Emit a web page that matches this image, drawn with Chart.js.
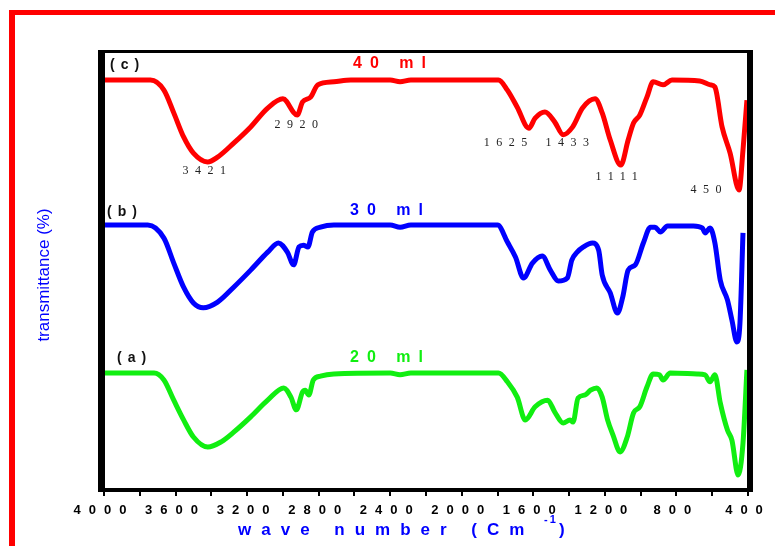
<!DOCTYPE html>
<html>
<head>
<meta charset="utf-8">
<script src="https://cdn.jsdelivr.net/npm/chart.js@4.4.0/dist/chart.umd.min.js"></script>
<style>
  body { margin: 0; background: #fff; }
</style>
</head>
<body>
<canvas id="ftir" width="775" height="546"></canvas>
<script>
// wavenumber (cm-1) and offset transmittance
var wnC = [4000, 3740, 3665, 3610, 3555, 3500, 3421, 3365, 3275, 3180, 3085, 3000, 2920, 2890, 2845, 2805, 2715, 2620, 2400, 2345, 2285, 1795, 1745, 1690, 1625, 1590, 1535, 1480, 1433, 1380, 1325, 1255, 1215, 1170, 1111, 1070, 1040, 1005, 965, 930, 875, 825, 670, 610, 585, 545, 500, 450, 428, 406];
var tC = [93.6, 93.6, 91.3, 86.1, 80.6, 76.9, 74.9, 76.0, 79.2, 82.9, 87.2, 89.3, 85.6, 88.6, 89.7, 92.5, 93.2, 93.6, 93.6, 93.2, 93.6, 93.6, 91.3, 87.4, 82.6, 84.9, 86.3, 84.0, 81.1, 82.9, 87.2, 89.3, 86.1, 79.9, 74.2, 79.9, 83.8, 85.6, 89.7, 93.2, 92.5, 93.6, 93.4, 92.5, 92.0, 82.9, 76.9, 68.5, 77.6, 89.0];

var wnB = [4000, 3755, 3665, 3610, 3555, 3500, 3445, 3365, 3275, 3180, 3085, 3025, 2975, 2940, 2910, 2885, 2860, 2835, 2790, 2715, 2400, 2345, 2285, 1800, 1745, 1700, 1655, 1605, 1550, 1505, 1460, 1410, 1385, 1355, 1320, 1270, 1235, 1215, 1170, 1130, 1100, 1070, 1030, 985, 945, 920, 890, 850, 705, 655, 640, 612, 585, 555, 515, 490, 462, 445, 428];
var tB = [60.5, 60.5, 57.5, 51.8, 46.3, 42.7, 41.6, 42.9, 46.3, 50.2, 54.3, 56.4, 54.3, 51.4, 55.5, 55.9, 55.5, 58.9, 60.0, 60.5, 60.5, 60.0, 60.5, 60.5, 56.6, 53.2, 48.4, 51.8, 53.4, 50.2, 47.7, 48.4, 52.5, 54.3, 55.5, 56.4, 54.8, 49.1, 45.0, 40.4, 44.1, 50.2, 51.4, 56.4, 60.0, 60.0, 58.9, 60.3, 60.3, 59.8, 58.7, 59.8, 56.4, 47.9, 43.4, 38.8, 33.8, 38.1, 58.7];

var wnA = [4000, 3720, 3665, 3610, 3555, 3500, 3420, 3345, 3275, 3180, 3085, 2995, 2955, 2925, 2890, 2875, 2855, 2830, 2790, 2715, 2400, 2345, 2285, 1795, 1745, 1690, 1645, 1590, 1520, 1480, 1433, 1395, 1378, 1350, 1310, 1280, 1245, 1215, 1185, 1155, 1115, 1075, 1040, 1005, 965, 930, 895, 875, 835, 685, 640, 612, 585, 555, 515, 490, 455, 428, 406];
var tA = [26.7, 26.7, 25.1, 20.5, 16.0, 12.1, 9.8, 11.0, 13.2, 16.7, 20.5, 23.3, 21.2, 18.3, 22.4, 22.8, 21.7, 25.1, 26.0, 26.5, 26.7, 26.3, 26.7, 26.7, 24.7, 21.2, 16.0, 19.0, 20.5, 17.8, 15.3, 16.0, 15.5, 21.0, 21.7, 22.8, 23.3, 21.2, 16.0, 12.6, 8.7, 12.1, 17.6, 19.0, 23.5, 26.5, 26.3, 25.1, 26.7, 26.5, 26.3, 24.7, 26.3, 19.9, 13.7, 11.4, 3.4, 10.7, 27.4];

// peak labels: text, wavenumber and value where the label is centred
var peakText = ["3421", "2920", "1625", "1433", "1111", "450"];
var peakWn = [3439, 2926, 1756, 1410, 1134, 635];
var peakT = [72.8, 83.3, 79.2, 79.2, 71.5, 68.5];

function toPoints(xs, ys) {
  return xs.map((x, i) => ({ x: x, y: ys[i] }));
}

function drawText(ctx, s, x, y, font, color, spacing) {
  ctx.save();
  ctx.font = font;
  ctx.fillStyle = color;
  ctx.letterSpacing = spacing + "px";
  ctx.textAlign = "left";
  ctx.textBaseline = "middle";
  ctx.fillText(s, x, y);
  ctx.restore();
}

const decor = {
  id: "decor",
  beforeDraw(chart) {
    const ctx = chart.ctx;
    ctx.save();
    ctx.fillStyle = "#fff";
    ctx.fillRect(0, 0, chart.width, chart.height);
    // red outer frame (only top and left visible)
    ctx.fillStyle = "#ff0000";
    ctx.fillRect(9, 10, 6, chart.height - 10);
    ctx.fillRect(9, 10, chart.width - 9, 5);
    ctx.restore();
    // spaced tick labels
    ctx.letterSpacing = "8px";
  },
  beforeDatasetsDraw(chart) {
    chart.ctx.letterSpacing = "0px";
  },
  afterDatasetsDraw(chart) {
    const ctx = chart.ctx;
    const a = chart.chartArea;
    ctx.save();
    ctx.fillStyle = "#000";
    ctx.fillRect(a.left - 6, a.top - 2, 7, a.bottom - a.top + 4);
    ctx.fillRect(a.left - 6, a.top - 2, a.right - a.left + 11, 3);
    ctx.fillRect(a.right - 1, a.top - 2, 6, a.bottom - a.top + 4);
    ctx.fillRect(a.left - 6, a.bottom - 2, a.right - a.left + 11, 4);
    ctx.restore();
  },
  afterDraw(chart) {
    const ctx = chart.ctx;
    const xs = chart.scales.x, ys = chart.scales.y;

    drawText(ctx, "(c)", 110, 65, "bold 14px 'Liberation Sans'", "#111", 6);
    drawText(ctx, "40 ml", 353, 64, "bold 16px 'Liberation Sans'", "#ff0000", 8);
    drawText(ctx, "(b)", 107, 212, "bold 14px 'Liberation Sans'", "#111", 6);
    drawText(ctx, "30 ml", 350, 211, "bold 16px 'Liberation Sans'", "#0000ff", 8);
    drawText(ctx, "(a)", 117, 358, "bold 14px 'Liberation Sans'", "#111", 6);
    drawText(ctx, "20 ml", 350, 358, "bold 16px 'Liberation Sans'", "#11ee11", 8);

    ctx.save();
    ctx.font = "12px 'Liberation Serif'";
    ctx.letterSpacing = "6.5px";
    peakText.forEach((s, i) => {
      const w = ctx.measureText(s).width - 6.5;
      const px = xs.getPixelForValue(peakWn[i]);
      const py = ys.getPixelForValue(peakT[i]);
      drawText(ctx, s, px - w / 2, py, "12px 'Liberation Serif'", "#222", 6.5);
    });
    ctx.restore();

    // x axis title
    drawText(ctx, "wave number (Cm", 238, 530, "bold 17px 'Liberation Sans'", "#0000ff", 10);
    drawText(ctx, "-1", 544, 520, "bold 11px 'Liberation Sans'", "#0000ff", 2);
    drawText(ctx, ")", 559, 530, "bold 17px 'Liberation Sans'", "#0000ff", 0);

    // y axis title
    ctx.save();
    ctx.translate(44, 275);
    ctx.rotate(-Math.PI / 2);
    ctx.font = "17px 'Liberation Sans'";
    ctx.fillStyle = "#0000ff";
    ctx.textAlign = "center";
    ctx.textBaseline = "middle";
    ctx.fillText("transmittance (%)", 0, 0);
    ctx.restore();
  }
};

new Chart(document.getElementById("ftir"), {
  type: "line",
  data: {
    datasets: [
      { data: toPoints(wnC, tC), borderColor: "#ff0000" },
      { data: toPoints(wnB, tB), borderColor: "#0000ff" },
      { data: toPoints(wnA, tA), borderColor: "#11ee11" },
    ]
  },
  options: {
    responsive: false,
    animation: false,
    parsing: false,
    layout: { padding: { left: 104, right: 27, top: 52, bottom: 0 } },
    elements: {
      point: { radius: 0 },
      line: { borderWidth: 5, cubicInterpolationMode: "monotone", fill: false }
    },
    plugins: {
      legend: { display: false },
      tooltip: { enabled: false }
    },
    scales: {
      x: {
        type: "linear",
        reverse: true,
        min: 400,
        max: 4000,
        afterFit: (scale) => { scale.height = 56; },
        border: { display: false },
        grid: {
          drawOnChartArea: false,
          drawTicks: true,
          tickLength: 6,
          color: "#000",
          lineWidth: 2
        },
        ticks: {
          stepSize: 200,
          padding: 7,
          color: "#000",
          maxRotation: 0,
          autoSkip: false,
          font: { family: "'Liberation Sans'", weight: "bold", size: 13 },
          callback: (v) => (v % 400 === 0 ? String(v) : "")
        }
      },
      y: {
        display: false,
        min: 0,
        max: 100
      }
    }
  },
  plugins: [decor]
});
</script>
</body>
</html>
